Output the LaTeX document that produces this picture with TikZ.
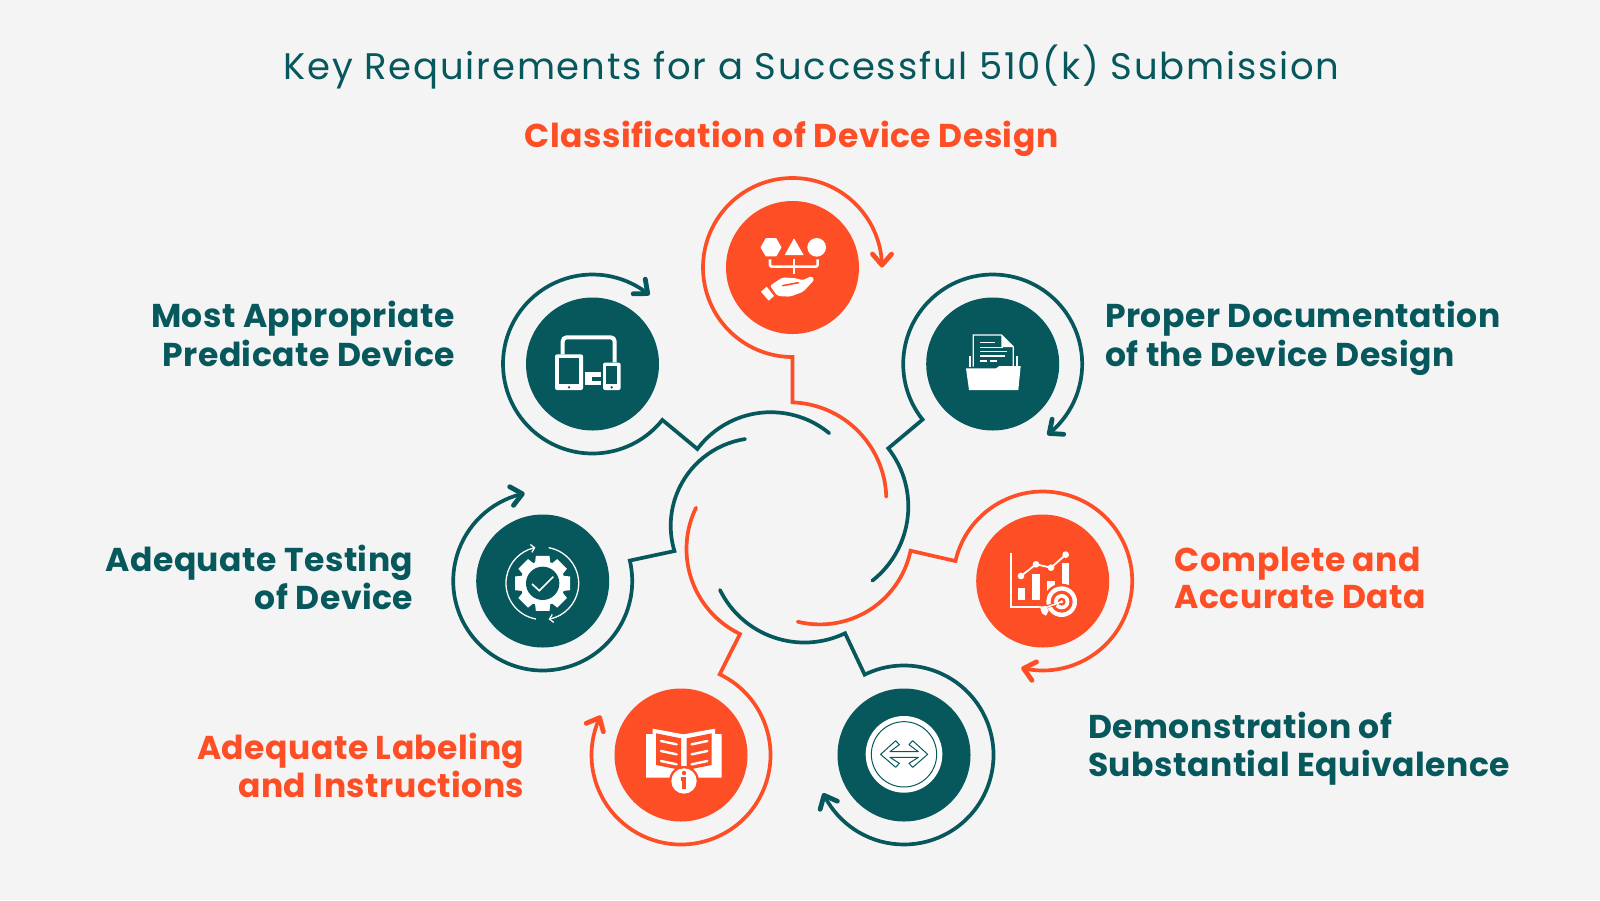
\documentclass[tikz,border=0pt]{standalone}
\usepackage{graphicx}
\usepackage{fontspec}
\setmainfont{Poppins}
\newfontfamily\titlefont[LetterSpace=4.8]{Poppins}
\newfontfamily\headfont[LetterSpace=1.5]{Poppins}
\usetikzlibrary{arrows.meta,bending,calc,shapes.geometric}
\definecolor{teal}{RGB}{6,88,92}
\definecolor{orng}{RGB}{254,78,38}
\definecolor{bgc}{RGB}{244,244,244}
\tikzset{
  dot/.style={circle,fill=#1,minimum size=133pt,inner sep=0pt,draw=none},
  ring/.style={draw=#1,line width=3.7pt,line cap=round,line join=miter,
     -{Straight Barb[length=11pt,width=19pt,line width=4.8pt,round]}},
  lbl/.style={inner sep=0pt,text=#1,font=\headfont\bfseries\fontsize{33}{36.7}\selectfont},
  zm/.style 2 args={shift={(#1,#2)},x=0.33333pt,y=-0.33333pt},
}
\begin{document}
\begin{tikzpicture}[x=1pt,y=-1pt]
\useasboundingbox (0,0) rectangle (1600,900);
\fill[bgc] (0,0) rectangle (1600,900);

% title
\node[inner sep=0pt,text=teal,font=\titlefont\fontsize{37}{40}\selectfont] (title) at (811.5,68.5) {\strut Key Requirements for a Successful 510(k) Submission};
\node[lbl=orng] (l1) at (791.5,140) {\strut Classification of Device Design};
\node[lbl=teal,anchor=east,align=right] (l2) at (455,339.5) {\strut Most Appropriate\\\strut Predicate Device};
\node[lbl=teal,anchor=west,align=left] (l3) at (1105,339.5) {\strut Proper Documentation\\\strut of the Device Design};
\node[lbl=teal,anchor=east,align=right] (l4) at (413.5,582.5) {\strut Adequate Testing\\\strut of Device};
\node[lbl=orng,anchor=west,align=left] (l5) at (1174.5,582.5) {\strut Complete and\\\strut Accurate Data};
\node[lbl=orng,anchor=east,align=right] (l6) at (524.5,770.5) {\strut Adequate Labeling\\\strut and Instructions};
\node[lbl=teal,anchor=west,align=left] (l7) at (1088,750) {\strut Demonstration of\\\strut Substantial Equivalence};

% discs
\node[dot=orng] (c1) at (792.5,267.5) {};
\node[dot=teal] (c2) at (592.5,364) {};
\node[dot=teal] (c3) at (992.7,364) {};
\node[dot=teal] (c4) at (542.7,581) {};
\node[dot=orng] (c5) at (1042.7,581) {};
\node[dot=orng] (c6) at (681,755) {};
\node[dot=teal] (c7) at (904,755) {};

% rings with their inner arcs
\draw[ring=orng] ($(789,499.6)+(-1.7:97.3)$) arc[start angle=-1.7,end angle=-87.9,radius=97.3]
  -- ($(c1.center)+(90:89.5)$) arc[start angle=90,end angle=360,radius=89.5];
\draw[ring=teal] ($(770.8,503.9)+(-50.4:91.7)$) arc[start angle=-50.4,end angle=-143.2,radius=91.7]
  -- ($(c2.center)+(38.7:89.5)$) arc[start angle=38.7,end angle=309.6,radius=89.5];
\draw[ring=teal] ($(813.8,506.5)+(51.7:94.5)$) arc[start angle=51.7,end angle=-38,radius=94.5]
  -- ($(c3.center)+(141.6:89.5)$) arc[start angle=141.6,end angle=412.4,radius=89.5];
\draw[ring=teal] ($(758.5,525.8)+(-98.8:87.8)$) arc[start angle=-98.8,end angle=-196.7,radius=87.8]
  -- ($(c4.center)+(-13.2:89.5)$) arc[start angle=-13.2,end angle=258.4,radius=89.5];
\draw[ring=orng] ($(819.9,531.8)+(103.9:92.6)$) arc[start angle=103.9,end angle=11.8,radius=92.6]
  -- ($(c5.center)+(192.9:89.5)$) arc[start angle=192.9,end angle=463.9,radius=89.5];
\draw[ring=orng] ($(780.7,549)+(206:94.2)$) arc[start angle=206,end angle=115.6,radius=94.2]
  -- ($(c6.center)+(-64.4:89.5)$) arc[start angle=-64.4,end angle=206.2,radius=89.5];
\draw[ring=teal] ($(804.4,548.4)+(153.8:94.1)$) arc[start angle=153.8,end angle=64.4,radius=94.1]
  -- ($(c7.center)+(243.9:89.5)$) arc[start angle=243.9,end angle=514.8,radius=89.5];

% icon 1: shapes over a hand
\begin{scope}[zm={690}{170}]
  \node[regular polygon,regular polygon sides=6,fill=white,minimum size=21pt,inner sep=0pt] (i1a) at (243,232) {};
  \fill[white] (312,205) -- (341,255) -- (284,255) -- cycle;
  \fill[white] (380,232) circle (28);
  \draw[white,line width=2.6pt,rounded corners=2pt] (240,268) -- (240,290) -- (383,290) -- (383,268);
  \draw[white,line width=2.6pt] (312,266) -- (312,312);
  \fill[white] (213,365) -- (230,350) -- (252,378) -- (236,392) -- cycle;
  \fill[white,rounded corners=2pt] (240,347) -- (278,322) -- (320,325) -- (338,331) -- (365,318) -- (374,328) -- (340,365) -- (300,380) -- (262,378) -- cycle;
  \draw[orng,line width=1.6pt,line cap=round] (278,347) -- (325,338);
\end{scope}

% icon 2: devices
\begin{scope}[zm={490}{265}]
  \draw[white,line width=4pt,rounded corners=4pt] (218,268) -- (218,217) -- (374,217) -- (374,292);
  \fill[white,rounded corners=2pt] (195,268) rectangle (279,375);
  \fill[teal] (206,280) rectangle (268,358);
  \fill[teal] (237,367) circle (4);
  \fill[white,rounded corners=2pt] (339,293) rectangle (392,375);
  \fill[teal] (349,303) rectangle (382,358);
  \fill[teal] (365,367) circle (4);
  \fill[white] (285,322) rectangle (333,360);
  \fill[teal] (307,335) rectangle (333,347);
\end{scope}

% icon 3: folder
\begin{scope}[zm={890}{265}]
  \draw[white,line width=1.2pt] (240,305) -- (240,272);
  \draw[white,line width=1.2pt] (381,305) -- (381,272);
  \draw[white,line width=1.3pt,fill=teal] (250,305) -- (250,210) -- (334,210) -- (370,246) -- (370,305);
  \fill[white] (334,210) -- (370,246) -- (334,246) -- cycle;
  \foreach \ya/\xa/\xb in {232/270/315,247/270/338,259/270/352,273/270/345,288/270/290,288/300/322}
    \draw[white,line width=1.1pt] (\xa,\ya) -- (\xb,\ya);
  \fill[white] (228,310) -- (318,310) -- (328,303) -- (392,303) -- (385,375) -- (237,375) -- cycle;
\end{scope}

% icon 4: gear
\begin{scope}[zm={440}{480}]
  \foreach \a in {0,45,...,315}
    \fill[white] ($(308,310)+(\a-14:85)$) -- ($(308,310)+(\a+14:85)$) -- ($(308,310)+(\a+24:58)$) -- ($(308,310)+(\a-24:58)$) -- cycle;
  \fill[white] (308,310) circle (67);
  \fill[teal] (308,310) circle (50);
  \draw[white,line width=1.7pt] (276,312) -- (298,332) -- (340,290);
  \draw[white,line width=1.3pt,-{Straight Barb[length=3.5pt,width=8pt,line width=1.3pt]}] (288,417) arc[start angle=100,end angle=259,radius=109];
  \draw[white,line width=1.3pt,-{Straight Barb[length=3.5pt,width=8pt,line width=1.3pt]}] (326,203) arc[start angle=-80,end angle=80,radius=109];
\end{scope}

% icon 5: chart
\begin{scope}[zm={940}{480}]
  \draw[white,line width=2pt] (213,218) -- (213,380) -- (310,380);
  \fill[white] (233,323) rectangle (256,360);
  \fill[white] (277,283) rectangle (300,360);
  \fill[white] (320,302) rectangle (344,345);
  \fill[white] (367,250) rectangle (388,335);
  \draw[white,line width=1.8pt] (243,288) -- (288,253) -- (333,263) -- (377,224);
  \foreach \px/\py in {243/288,288/253,333/263,377/224} \fill[white] (\px,\py) circle (10);
  \fill[orng] (365,365) circle (54);
  \fill[white] (365,365) circle (46);
  \fill[orng] (365,365) circle (33);
  \fill[white] (365,365) circle (23);
  \fill[orng] (365,365) circle (12);
  \fill[white] (365,365) circle (5);
  \draw[orng,line width=3pt] (300,385) -- (350,372);
  \draw[white,line width=1.5pt] (308,386) -- (365,365);
  \fill[white] (300,380) -- (318,378) -- (326,392) -- (318,407) -- (306,400) -- cycle;
\end{scope}

% icon 6: book
\begin{scope}[zm={580}{650}]
  \fill[white] (198,252) -- (218,252) -- (218,236) -- (310,253) -- (405,236) -- (405,252) -- (425,252) -- (425,383) -- (198,383) -- cycle;
  \fill[orng] (228,250) -- (303,265) -- (303,360) -- (228,345) -- cycle;
  \fill[orng] (320,265) -- (395,250) -- (395,345) -- (320,360) -- cycle;
  \foreach \yl/\yr in {273/283,303/313,333/343} {
    \draw[white,line width=2.4pt,line cap=round] (243,\yl) -- (290,\yr);
    \draw[white,line width=2.4pt,line cap=round] (335,\yr) -- (382,\yl);
  }
  \fill[orng] (312,393) circle (45);
  \fill[white] (312,393) circle (38);
  \fill[orng] (312,369) circle (6.5);
  \draw[orng,line width=3.2pt] (302,387) -- (312,387) -- (312,418);
\end{scope}

% icon 7: two-way arrow
\begin{scope}[zm={810}{650}]
  \fill[white] (282,313) circle (115);
  \draw[teal,line width=1pt] (282,313) circle (98);
  \draw[teal,line width=1pt,line join=round] (212,313) -- (257,272) -- (268,284) -- (240,305) -- (325,305) -- (297,284) -- (308,272) -- (353,313) -- (308,352) -- (297,340) -- (325,322) -- (240,322) -- (268,340) -- (257,352) -- cycle;
\end{scope}
\end{tikzpicture}
\end{document}
